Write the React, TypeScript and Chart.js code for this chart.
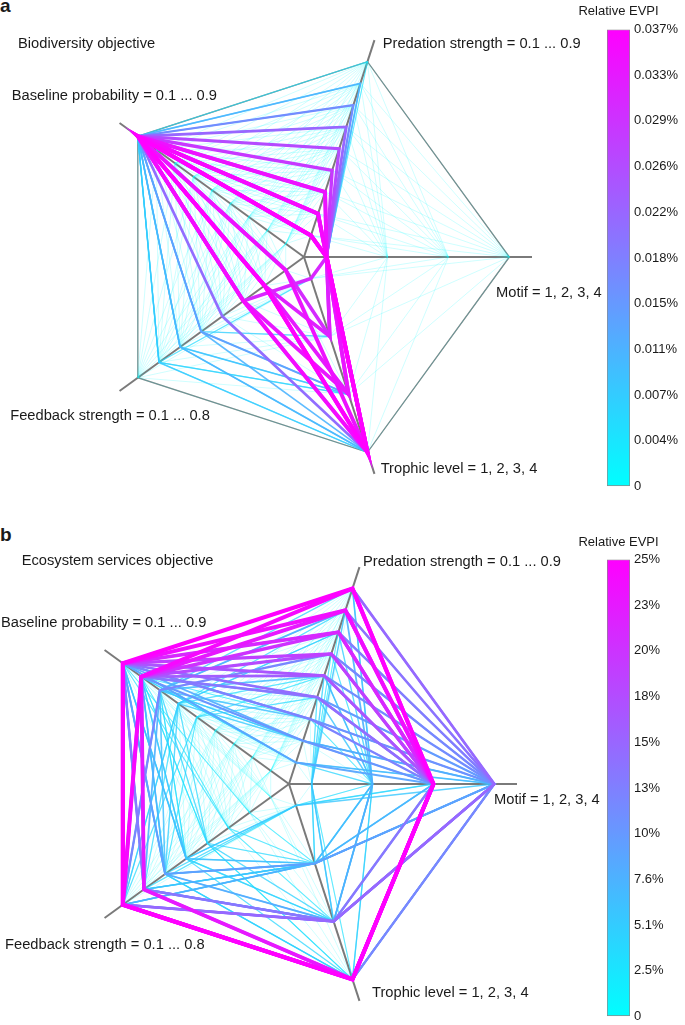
import React, { useEffect, useRef } from 'react';
import { Chart, registerables } from 'chart.js';

Chart.register(...registerables);

const FONT = '"Liberation Sans", Arial, Helvetica, sans-serif';

// Axis order around the web (clockwise from the right-hand axis)
const axisNames = ['Motif', 'Trophic level', 'Feedback strength', 'Baseline probability', 'Predation strength'];
const predationLevels = [0.1, 0.2, 0.3, 0.4, 0.5, 0.6, 0.7, 0.8, 0.9];
const motifLevels = [1, 2, 3, 4];
const trophicLevels = [1, 2, 3, 4];
const feedbackLevels = [0.1, 0.2, 0.3, 0.4, 0.5, 0.6, 0.7, 0.8];
const baselineLevels = [0.1, 0.2, 0.3, 0.4, 0.5, 0.6, 0.7, 0.8, 0.9];

// rows: [predation, motif, trophic, feedback, baseline, relative EVPI (%)]
const biodiversityLines = [
  [0.1, 1, 4, 0.2, 0.9, 0.0366],
  [0.2, 1, 4, 0.2, 0.9, 0.0355],
  [0.1, 1, 4, 0.3, 0.9, 0.035],
  [0.3, 1, 4, 0.1, 0.9, 0.034],
  [0.2, 1, 3, 0.3, 0.9, 0.0335],
  [0.1, 1, 3, 0.2, 0.9, 0.033],
  [0.3, 1, 2, 0.2, 0.9, 0.032],
  [0.2, 1, 1, 0.3, 0.9, 0.031],
  [0.1, 1, 2, 0.1, 0.9, 0.0305],
  [0.4, 1, 4, 0.2, 0.9, 0.0285],
  [0.5, 1, 4, 0.3, 0.9, 0.026],
  [0.6, 1, 4, 0.2, 0.9, 0.022],
  [0.3, 1, 4, 0.4, 0.9, 0.021],
  [0.7, 1, 4, 0.3, 0.9, 0.0165],
  [0.2, 1, 3, 0.5, 0.9, 0.0135],
  [0.8, 1, 4, 0.2, 0.9, 0.011],
  [0.4, 1, 4, 0.5, 0.9, 0.011],
  [0.1, 1, 4, 0.6, 0.9, 0.0105],
  [0.5, 1, 3, 0.6, 0.9, 0.009],
  [0.6, 1, 4, 0.6, 0.9, 0.0085],
  [0.3, 1, 4, 0.7, 0.9, 0.008],
  [0.6, 1, 2, 0.5, 0.9, 0.0075],
  [0.4, 1, 3, 0.7, 0.9, 0.007],
  [0.8, 1, 3, 0.5, 0.9, 0.0065],
  [0.7, 1, 3, 0.6, 0.9, 0.006],
  [0.1, 1, 1, 0.7, 0.9, 0.0055],
  [0.2, 1, 4, 0.7, 0.9, 0.005],
  [0.9, 1, 4, 0.1, 0.9, 0.0045],
  [0.5, 1, 3, 0.7, 0.9, 0.004],
];
const biodiversityMeshEvpi = 0.001;
const biodiversityEvpiMax = 0.0366;
const biodiversityTicks = [0, 0.00366, 0.00732, 0.01098, 0.01464, 0.0183, 0.02196, 0.02562, 0.02928, 0.03294, 0.0366];
const biodiversityTickLabels = ['0', '0.004%', '0.007%', '0.011%', '0.015%', '0.018%', '0.022%', '0.026%', '0.029%', '0.033%', '0.037%'];

const ecosystemLines = [
  [0.9, 3, 4, 0.8, 0.9, 25.4],
  [0.9, 3, 4, 0.8, 0.8, 24.6],
  [0.8, 3, 4, 0.8, 0.9, 24.0],
  [0.8, 3, 4, 0.7, 0.8, 23.0],
  [0.7, 3, 4, 0.8, 0.9, 21.5],
  [0.7, 3, 4, 0.8, 0.8, 20.5],
  [0.6, 3, 4, 0.8, 0.9, 19.0],
  [0.6, 3, 4, 0.7, 0.8, 18.0],
  [0.5, 3, 4, 0.8, 0.9, 17.0],
  [0.5, 3, 4, 0.8, 0.8, 16.0],
  [0.9, 4, 3, 0.8, 0.9, 15.0],
  [0.4, 3, 4, 0.8, 0.9, 14.5],
  [0.8, 4, 3, 0.8, 0.8, 14.0],
  [0.4, 3, 3, 0.7, 0.8, 13.5],
  [0.7, 4, 3, 0.7, 0.9, 13.0],
  [0.3, 3, 4, 0.8, 0.9, 12.5],
  [0.6, 4, 4, 0.8, 0.7, 12.0],
  [0.5, 4, 3, 0.8, 0.9, 11.5],
  [0.3, 4, 3, 0.7, 0.9, 11.0],
  [0.2, 3, 4, 0.8, 0.8, 10.5],
  [0.4, 4, 4, 0.7, 0.8, 10.0],
  [0.9, 4, 2, 0.6, 0.9, 9.5],
  [0.1, 3, 3, 0.8, 0.9, 9.0],
  [0.2, 4, 3, 0.6, 0.9, 8.5],
  [0.8, 2, 3, 0.7, 0.7, 8.0],
  [0.7, 4, 2, 0.8, 0.9, 7.8],
  [0.6, 3, 2, 0.6, 0.8, 7.5],
  [0.1, 4, 4, 0.7, 0.9, 7.2],
  [0.5, 2, 3, 0.8, 0.7, 7.0],
  [0.9, 2, 2, 0.5, 0.9, 6.8],
  [0.3, 4, 2, 0.6, 0.7, 6.5],
  [0.6, 4, 2, 0.8, 0.8, 6.3],
  [0.8, 1, 3, 0.8, 0.9, 6.2],
  [0.4, 2, 2, 0.7, 0.9, 6.0],
  [0.2, 4, 3, 0.8, 0.7, 5.9],
  [0.6, 4, 1, 0.5, 0.8, 5.8],
  [0.8, 4, 2, 0.7, 0.9, 5.6],
  [0.2, 3, 2, 0.8, 0.6, 5.5],
  [0.7, 2, 4, 0.6, 0.6, 5.2],
  [0.5, 1, 2, 0.7, 0.9, 5.0],
  [0.9, 4, 3, 0.6, 0.8, 4.9],
  [0.9, 3, 3, 0.4, 0.7, 4.8],
  [0.1, 2, 3, 0.5, 0.8, 4.6],
  [0.3, 3, 1, 0.6, 0.9, 4.4],
  [0.7, 4, 4, 0.5, 0.9, 4.3],
  [0.8, 4, 2, 0.4, 0.6, 4.2],
  [0.4, 4, 3, 0.5, 0.9, 4.1],
  [0.4, 1, 3, 0.8, 0.5, 4.0],
  [0.5, 4, 2, 0.7, 0.6, 3.9],
  [0.6, 2, 1, 0.7, 0.8, 3.8],
  [0.1, 4, 2, 0.6, 0.8, 3.7],
  [0.2, 4, 2, 0.5, 0.7, 3.6],
  [0.7, 3, 2, 0.3, 0.9, 3.5],
  [0.5, 4, 4, 0.6, 0.5, 3.4],
  [0.6, 1, 4, 0.6, 0.9, 3.3],
  [0.3, 4, 4, 0.4, 0.8, 3.2],
  [0.8, 3, 1, 0.5, 0.7, 3.1],
  [0.9, 2, 3, 0.3, 0.8, 3.0],
  [0.5, 2, 4, 0.4, 0.8, 2.9],
  [0.3, 2, 2, 0.2, 0.9, 2.8],
  [0.7, 1, 2, 0.8, 0.6, 2.7],
];
const ecosystemMeshEvpi = 0.6;
const ecosystemEvpiMax = 25.4;
const ecosystemTicks = [0, 2.54, 5.08, 7.62, 10.16, 12.7, 15.24, 17.78, 20.32, 22.86, 25.4];
const ecosystemTickLabels = ['0', '2.5%', '5.1%', '7.6%', '10%', '13%', '15%', '18%', '20%', '23%', '25%'];

const axisLevels = [motifLevels, trophicLevels, feedbackLevels, baselineLevels, predationLevels];

function norm(levels: number[], v: number) {
  return 0.11 + (0.89 * levels.indexOf(v)) / (levels.length - 1);
}

function coolColor(t: number, a: number) {
  const c = Math.max(0, Math.min(1, t));
  return `rgba(${Math.round(255 * c)},${Math.round(255 * (1 - c))},255,${a})`;
}

function buildDatasets(rows: number[][], meshEvpi: number, max: number) {
  const sorted = [...rows].sort((a, b) => b[5] - a[5]);
  const ds: any[] = [];
  for (const r of sorted) {
    const vals = [r[1], r[2], r[3], r[4], r[0]];
    const t = r[5] / max;
    ds.push({
      data: vals.map((v, k) => norm(axisLevels[k], v)),
      borderColor: coolColor(t, Math.min(1, 0.45 + 1.4 * t)),
      borderWidth: 0.7 + 3.4 * t,
      fill: false,
      pointRadius: 0,
      spanGaps: false,
    });
  }
  const tm = meshEvpi / max;
  for (let k = 0; k < 5; k++) {
    const k2 = (k + 1) % 5;
    for (const a of axisLevels[k]) {
      for (const b of axisLevels[k2]) {
        const d: (number | null)[] = [null, null, null, null, null];
        d[k] = norm(axisLevels[k], a);
        d[k2] = norm(axisLevels[k2], b);
        ds.push({
          data: d,
          borderColor: coolColor(tm, 0.32),
          borderWidth: 0.6,
          fill: false,
          pointRadius: 0,
          spanGaps: false,
        });
      }
    }
  }
  return ds;
}

function RadarPanel({ rows, meshEvpi, max, cx, cy }: any) {
  const ref = useRef<HTMLCanvasElement>(null);
  const D = 228;
  useEffect(() => {
    const chart = new Chart(ref.current as HTMLCanvasElement, {
      type: 'radar',
      data: { labels: axisNames, datasets: buildDatasets(rows, meshEvpi, max) },
      options: {
        animation: false,
        responsive: false,
        devicePixelRatio: 1,
        events: [],
        layout: { padding: 0 },
        plugins: { legend: { display: false }, tooltip: { enabled: false } },
        elements: { point: { radius: 0, hitRadius: 0, hoverRadius: 0 }, line: { tension: 0, fill: false } },
        scales: {
          r: {
            min: 0,
            max: 1.11,
            startAngle: 90,
            ticks: { display: false },
            pointLabels: { display: false },
            grid: { color: '#808080', lineWidth: 1.3 },
            angleLines: { color: '#7a7a7a', lineWidth: 2 },
            afterBuildTicks: (s: any) => {
              s.ticks = [{ value: 0 }, { value: 1 }];
            },
          },
        },
      } as any,
    });
    return () => chart.destroy();
  }, []);
  return (
    <canvas
      ref={ref}
      width={2 * D}
      height={2 * D}
      style={{ position: 'absolute', left: cx - D, top: cy - D, width: 2 * D, height: 2 * D }}
    />
  );
}

function ColorBar({ ticks, labels, max, top, height, padTop, padBottom }: any) {
  const ref = useRef<HTMLCanvasElement>(null);
  useEffect(() => {
    const last = ticks.length - 1;
    const chart = new Chart(ref.current as HTMLCanvasElement, {
      type: 'bar',
      data: {
        labels: ['Relative EVPI'],
        datasets: [
          {
            data: [max],
            backgroundColor: (c: any) => {
              const area = c.chart.chartArea;
              if (!area) return '#00ffff';
              const g = c.chart.ctx.createLinearGradient(0, area.bottom, 0, area.top);
              g.addColorStop(0, '#00ffff');
              g.addColorStop(1, '#ff00ff');
              return g;
            },
            borderColor: '#8a8a8a',
            borderWidth: 1,
            borderSkipped: false,
            barPercentage: 1,
            categoryPercentage: 1,
          },
        ],
      },
      options: {
        animation: false,
        responsive: false,
        devicePixelRatio: 1,
        events: [],
        layout: { padding: { left: 12, right: 0, top: padTop, bottom: padBottom } },
        plugins: { legend: { display: false }, tooltip: { enabled: false } },
        scales: {
          x: { display: false },
          y: {
            position: 'right',
            min: 0,
            max,
            z: 1,
            border: { display: false },
            grid: {
              drawOnChartArea: false,
              drawTicks: true,
              tickLength: -4,
              lineWidth: 1,
              color: (ctx: any) => (ctx.index === 0 || ctx.index === last ? 'rgba(0,0,0,0)' : '#555'),
            },
            ticks: {
              padding: 8,
              autoSkip: false,
              color: '#1a1a1a',
              font: { family: FONT, size: 13 },
              callback: (_v: any, i: number) => labels[i],
            },
            afterBuildTicks: (s: any) => {
              s.ticks = ticks.map((v: number) => ({ value: v }));
            },
            afterFit: (s: any) => {
              s.width = 55;
              s.paddingTop = 0;
              s.paddingBottom = 0;
            },
          },
        },
      } as any,
    });
    return () => chart.destroy();
  }, []);
  return (
    <canvas
      ref={ref}
      width={90}
      height={height}
      style={{ position: 'absolute', left: 595, top, width: 90, height }}
    />
  );
}

function Label({ text, x, base, size = 14.7, bold = false, center = false }: any) {
  const lh = Math.round(size * 1.16);
  const baseOff = (lh - 1.117 * size) / 2 + 0.905 * size;
  return (
    <div
      style={{
        position: 'absolute',
        left: center ? x - 100 : x,
        width: center ? 200 : undefined,
        textAlign: center ? 'center' : 'left',
        top: base - baseOff,
        fontFamily: FONT,
        fontSize: size,
        lineHeight: `${lh}px`,
        fontWeight: bold ? 'bold' : 'normal',
        color: '#1a1a1a',
        whiteSpace: 'nowrap',
        zIndex: 2,
      }}
    >
      {text}
    </div>
  );
}

export default function App() {
  return (
    <div
      style={{
        position: 'absolute',
        left: 0,
        top: 0,
        width: 685,
        height: 1025,
        overflow: 'hidden',
        background: '#fff',
      }}
    >
      <RadarPanel rows={biodiversityLines} meshEvpi={biodiversityMeshEvpi} max={biodiversityEvpiMax} cx={304} cy={257} />
      <RadarPanel rows={ecosystemLines} meshEvpi={ecosystemMeshEvpi} max={ecosystemEvpiMax} cx={289} cy={784} />
      <ColorBar ticks={biodiversityTicks} labels={biodiversityTickLabels} max={biodiversityEvpiMax} top={14} height={486} padTop={15.5} padBottom={13.5} />
      <ColorBar ticks={ecosystemTicks} labels={ecosystemTickLabels} max={ecosystemEvpiMax} top={545} height={480} padTop={14.5} padBottom={8.5} />

      <Label text="a" x={0} base={13} size={19} bold />
      <Label text="Biodiversity objective" x={18} base={48.2} />
      <Label text="Baseline probability = 0.1 ... 0.9" x={11.7} base={101} />
      <Label text="Predation strength = 0.1 ... 0.9" x={382.7} base={49} />
      <Label text="Motif = 1, 2, 3, 4" x={496} base={297.5} />
      <Label text="Feedback strength = 0.1 ... 0.8" x={10.2} base={421} />
      <Label text="Trophic level = 1, 2, 3, 4" x={380.7} base={473.5} />
      <Label text="Relative EVPI" x={618.5} base={15} size={13} center />

      <Label text="b" x={0} base={541.5} size={19} bold />
      <Label text="Ecosystem services objective" x={21.7} base={566} />
      <Label text="Baseline probability = 0.1 ... 0.9" x={1} base={627.5} />
      <Label text="Predation strength = 0.1 ... 0.9" x={363} base={566.5} />
      <Label text="Motif = 1, 2, 3, 4" x={494} base={805} />
      <Label text="Feedback strength = 0.1 ... 0.8" x={5} base={950} />
      <Label text="Trophic level = 1, 2, 3, 4" x={372} base={998} />
      <Label text="Relative EVPI" x={618.5} base={546} size={13} center />
    </div>
  );
}
